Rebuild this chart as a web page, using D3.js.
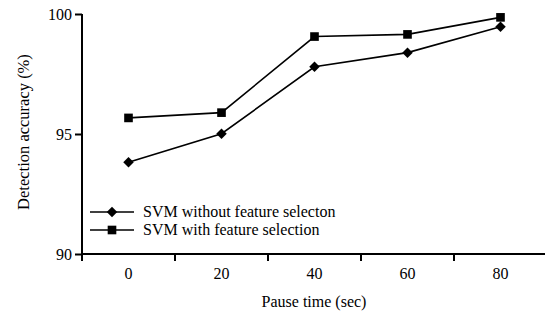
<!DOCTYPE html>
<html lang="en">
<head>
    <meta charset="UTF-8">
    <title>Detection accuracy vs pause time</title>
    <script src="https://d3js.org/d3.v7.min.js"></script>
</head>
<style>
    body { margin: 0; background: #fff; }
    svg text { font-family: "Liberation Serif", "Times New Roman", serif; fill: #000; }
</style>
<body>
    <div id="chart"></div>
    <script>
        // data
        const pauseTimes = ['0', '20', '40', '60', '80'];
        const withoutSelection = [93.82, 95.01, 97.8, 98.39, 99.47];
        const withSelection = [95.67, 95.89, 99.06, 99.15, 99.86];
        const yTicks = [90, 95, 100];
        const seriesNames = ['SVM without feature selecton', 'SVM with feature selection'];

        const width = 545, height = 322;
        const svg = d3.select('#chart')
            .append('svg')
            .attr('width', width)
            .attr('height', height);

        const x = d3.scaleBand()
            .domain(pauseTimes)
            .range([82, 547]);

        const y = d3.scaleLinear()
            .domain([90, 100])
            .range([254, 14]);

        // y axis
        const yAxis = svg.append('g')
            .attr('transform', 'translate(82,0)')
            .call(d3.axisLeft(y).tickValues(yTicks).tickSize(7).tickPadding(3));
        yAxis.select('.domain').attr('stroke-width', 2).attr('d', 'M0,' + y(100) + 'V' + y(90));
        yAxis.selectAll('.tick line').attr('stroke-width', 2);
        yAxis.selectAll('.tick text').attr('font-size', 16).attr('font-family', '"Liberation Serif", serif');

        // x axis: ticks between the bands
        const xAxis = svg.append('g')
            .attr('transform', 'translate(0,254)');
        xAxis.append('line')
            .attr('x1', 82).attr('x2', width)
            .attr('stroke', '#000').attr('stroke-width', 2);
        xAxis.selectAll('.sep')
            .data(pauseTimes)
            .enter()
            .append('line')
            .attr('x1', d => x(d)).attr('x2', d => x(d))
            .attr('y1', 0).attr('y2', 7)
            .attr('stroke', '#000').attr('stroke-width', 2);
        xAxis.selectAll('.lbl')
            .data(pauseTimes)
            .enter()
            .append('text')
            .attr('x', d => x(d) + x.bandwidth() / 2)
            .attr('y', 25)
            .attr('text-anchor', 'middle')
            .attr('font-size', 16)
            .text(d => d);

        // axis titles
        svg.append('text')
            .attr('x', 314)
            .attr('y', 307)
            .attr('text-anchor', 'middle')
            .attr('font-size', 16)
            .text('Pause time (sec)');

        svg.append('text')
            .attr('transform', 'translate(29,132) rotate(-90)')
            .attr('text-anchor', 'middle')
            .attr('font-size', 16.5)
            .text('Detection accuracy (%)');

        const line = d3.line()
            .x((d, i) => x(pauseTimes[i]) + x.bandwidth() / 2)
            .y(d => y(d));

        const diamond = d3.symbol().type(d3.symbolDiamond2).size(70);
        const square = d3.symbol().type(d3.symbolSquare2).size(95);

        // series lines
        svg.append('path')
            .datum(withoutSelection)
            .attr('d', line)
            .attr('fill', 'none')
            .attr('stroke', '#000')
            .attr('stroke-width', 1.6);

        svg.append('path')
            .datum(withSelection)
            .attr('d', line)
            .attr('fill', 'none')
            .attr('stroke', '#000')
            .attr('stroke-width', 1.6);

        svg.selectAll('.diamond')
            .data(withoutSelection)
            .enter()
            .append('path')
            .attr('transform', (d, i) => `translate(${x(pauseTimes[i]) + x.bandwidth() / 2},${y(d)})`)
            .attr('d', diamond)
            .attr('fill', '#000');

        svg.selectAll('.square')
            .data(withSelection)
            .enter()
            .append('path')
            .attr('transform', (d, i) => `translate(${x(pauseTimes[i]) + x.bandwidth() / 2},${y(d)})`)
            .attr('d', square)
            .attr('fill', '#000');

        // legend
        const legend = svg.append('g');
        const rows = [{ name: seriesNames[0], sym: diamond, y: 212 }, { name: seriesNames[1], sym: square, y: 230 }];
        rows.forEach(r => {
            legend.append('line')
                .attr('x1', 90).attr('x2', 134)
                .attr('y1', r.y).attr('y2', r.y)
                .attr('stroke', '#000').attr('stroke-width', 1.6);
            legend.append('path')
                .attr('transform', `translate(112,${r.y})`)
                .attr('d', r.sym)
                .attr('fill', '#000');
            legend.append('text')
                .attr('x', 143)
                .attr('y', r.y + 5)
                .attr('font-size', 16)
                .text(r.name);
        });
    </script>
</body>
</html>
